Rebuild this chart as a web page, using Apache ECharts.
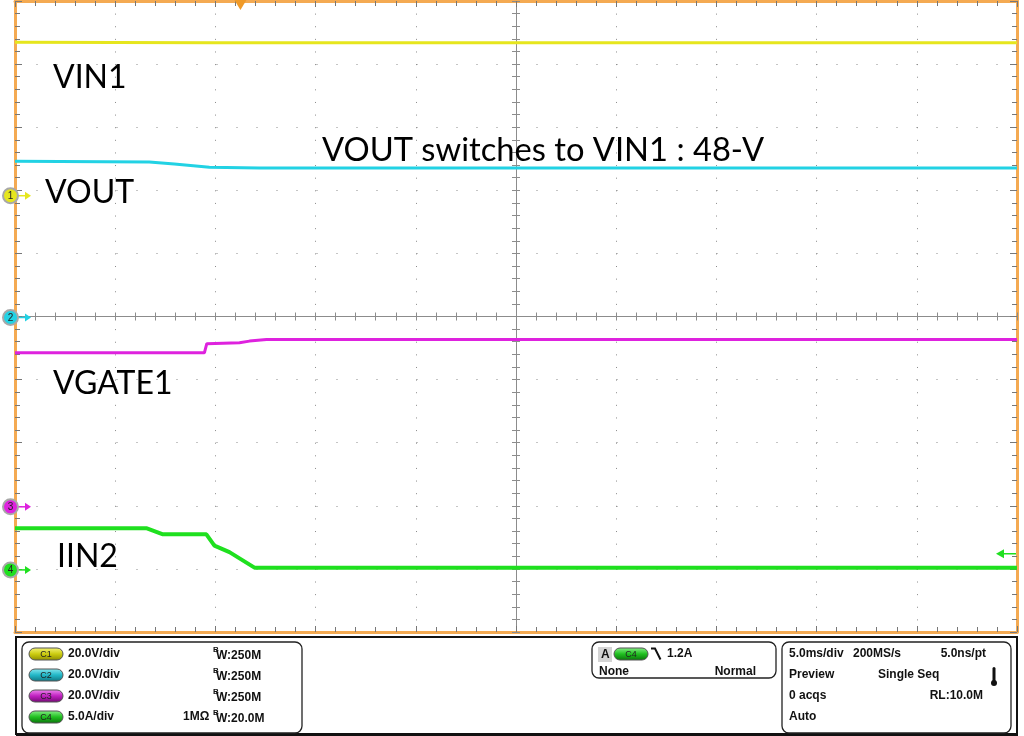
<!DOCTYPE html>
<html><head><meta charset="utf-8">
<script src="https://cdn.jsdelivr.net/npm/echarts@6/dist/echarts.min.js"></script>
<style>html,body{margin:0;padding:0;background:#fff}#c{width:1024px;height:736px}</style>
</head><body><div id="c"></div>
<script>
// ---- data (time in ms relative to screen centre, 5 ms/div) ----
const timeMin = -25, timeMax = 25, timeDiv = 5;
const divMin = -5, divMax = 5;
const channelNames = ['VIN1', 'VOUT', 'VGATE1', 'IIN2'];
const channelScale = [20, 20, 20, 5];        // V/div, V/div, V/div, A/div
const channelOffset = [1.93, 0, -3, -4];     // ground marker position (div)
const channelColors = ['#e6e61e', '#22d2e4', '#de22de', '#1fe01f'];
const vin1Time = [-25, -15, 25];
const vin1Value = [48.3, 48.2, 48.2];
const voutTime = [-25, -18.3, -17.05, -15.3, -12.8, 25];
const voutValue = [49.2, 49.0, 48.3, 47.3, 47.1, 47.1];
const vgateTime = [-25, -15.55, -15.43, -13.8, -13.3, -12.45, 25];
const vgateValue = [48.5, 48.5, 51.4, 51.7, 52.2, 52.7, 52.7];
const iinTime = [-25, -18.45, -17.65, -15.45, -15.05, -14.3, -13.05, 25];
const iinValue = [3.23, 3.23, 2.75, 2.74, 1.85, 1.33, 0.1, 0.1];
const triggerTime = -13.75;
const triggerLevel = 1.2;   // A on C4
const annotation = 'VOUT switches to VIN1 : 48-V';

const chart = echarts.init(document.getElementById('c'), null, {renderer: 'canvas'});
const ORANGE = '#f4aa52';
function toDiv(times, vals, ch) {
  return times.map((t, i) => [t, vals[i] / channelScale[ch] + channelOffset[ch]]);
}
function borderX(pos) {
  return {gridIndex: 0, type: 'value', position: pos, min: timeMin, max: timeMax, interval: timeDiv,
    axisLine: {show: true, onZero: false, lineStyle: {color: ORANGE, width: 3}},
    axisTick: {show: true, inside: true, length: 6, lineStyle: {color: '#777'}},
    minorTick: {show: true, splitNumber: 5, length: 5, lineStyle: {color: '#777'}},
    axisLabel: {show: false},
    splitLine: {show: pos === 'bottom', lineStyle: {color: '#8a8a8a', width: 1, type: [1, 11.62]}}};
}
function borderY(pos) {
  return {gridIndex: 0, type: 'value', position: pos, min: divMin, max: divMax, interval: 1,
    axisLine: {show: true, onZero: false, lineStyle: {color: ORANGE, width: 3}},
    axisTick: {show: true, inside: true, length: 7, lineStyle: {color: '#777'}},
    minorTick: {show: true, splitNumber: 5, length: 5, lineStyle: {color: '#777'}},
    axisLabel: {show: false},
    splitLine: {show: pos === 'left', lineStyle: {color: '#8a8a8a', width: 1, type: [1, 19], dashOffset: -1.5}}};
}
function centerX(pos) {
  return {gridIndex: 1, type: 'value', position: pos, min: timeMin, max: timeMax, interval: timeDiv,
    axisLine: {show: true, onZero: true, lineStyle: {color: '#8c8c8c', width: 1}},
    axisTick: {show: true, inside: true, length: 4, lineStyle: {color: '#8c8c8c'}},
    minorTick: {show: true, splitNumber: 5, length: 4, lineStyle: {color: '#8c8c8c'}},
    axisLabel: {show: false}, splitLine: {show: false}};
}
function centerY(pos) {
  return {gridIndex: 1, type: 'value', position: pos, min: divMin, max: divMax, interval: 1,
    axisLine: {show: true, onZero: true, lineStyle: {color: '#8c8c8c', width: 1}},
    axisTick: {show: true, inside: true, length: 4, lineStyle: {color: '#8c8c8c'}},
    minorTick: {show: true, splitNumber: 5, length: 4, lineStyle: {color: '#8c8c8c'}},
    axisLabel: {show: false}, splitLine: {show: false}};
}
const gridRect = {left: 15, right: 7, top: 1, bottom: 104};
function lineSeries(name, data, ch, w) {
  return {name, type: 'line', xAxisIndex: 0, yAxisIndex: 0, data, symbol: 'none', showSymbol: false,
    lineStyle: {color: channelColors[ch], width: w}, z: 3, silent: true};
}
chart.setOption({
  animation: false,
  backgroundColor: '#ffffff',
  grid: [Object.assign({}, gridRect), Object.assign({}, gridRect)],
  xAxis: [borderX('bottom'), borderX('top'), centerX('bottom'), centerX('top')],
  yAxis: [borderY('left'), borderY('right'), centerY('left'), centerY('right')],
  series: [
    lineSeries('IIN2', toDiv(iinTime, iinValue, 3), 3, 4),
    lineSeries('VGATE1', toDiv(vgateTime, vgateValue, 2), 2, 3),
    lineSeries('VOUT', toDiv(voutTime, voutValue, 1), 1, 3),
    lineSeries('VIN1', toDiv(vin1Time, vin1Value, 0), 0, 3)
  ]
});

// ---- decorations ----
const px = (t, d) => chart.convertToPixel({xAxisIndex: 0, yAxisIndex: 0}, [t, d]);
const G = [];
function label(text, x, y, size) {
  G.push({type: 'text', x, y, z: 10, style: {text, fontFamily: 'Lato', fontSize: size || 32, fill: '#000', verticalAlign: 'middle', align: 'left'}});
}
const labelPos = [[53, 77.5], [45, 193], [53, 383.5], [57, 557]];
channelNames.forEach((n, i) => label(n, labelPos[i][0], labelPos[i][1]));
label(annotation, 322, 150, 32.7);

// channel ground markers
channelColors.forEach((c, i) => {
  const y = px(timeMin, channelOffset[i])[1] + 1;
  G.push({type: 'line', z: 11, shape: {x1: 18, y1: y, x2: 26, y2: y}, style: {stroke: c, lineWidth: 1.5}});
  G.push({type: 'polygon', z: 11, shape: {points: [[31, y], [25, y - 4], [25, y + 4]]}, style: {fill: c}});
  G.push({type: 'circle', z: 12, shape: {cx: 10.5, cy: y, r: 7.5}, style: {fill: c, stroke: '#a8a8a8', lineWidth: 2}});
  G.push({type: 'text', z: 13, x: 10.5, y: y + 0.5, style: {text: String(i + 1), fontFamily: 'Liberation Sans', fontSize: 10, fill: '#222', align: 'center', verticalAlign: 'middle'}});
});
// trigger position marker (top)
const tx = px(triggerTime, 0)[0];
G.push({type: 'polygon', z: 30, shape: {points: [[tx - 6, 0], [tx + 6, 0], [tx, 10]]}, style: {fill: '#f09a28'}});
// trigger level marker (right)
const ty = px(timeMax, triggerLevel / channelScale[3] + channelOffset[3])[1];
G.push({type: 'line', z: 12, shape: {x1: 1002, y1: ty, x2: 1016, y2: ty}, style: {stroke: channelColors[3], lineWidth: 1.5}});
G.push({type: 'polygon', z: 12, shape: {points: [[996, ty], [1004, ty - 4.5], [1004, ty + 4.5]]}, style: {fill: channelColors[3]}});

// ---- info panel ----
const F = 'bold 12px "Liberation Sans", Arial, sans-serif';
function t(text, x, y, align) {
  G.push({type: 'text', z: 20, x, y, style: {text, font: F, fill: '#111', align: align || 'left', verticalAlign: 'middle'}});
}
G.push({type: 'rect', z: 15, shape: {x: 16, y: 637, width: 1001, height: 97}, style: {fill: '#fff', stroke: '#111', lineWidth: 2}});
G.push({type: 'line', z: 16, shape: {x1: 16, y1: 734.5, x2: 1018, y2: 734.5}, style: {stroke: '#111', lineWidth: 3}});
[[22, 642, 280, 91], [592, 642, 184, 36], [782, 642, 229, 91]].forEach(b => {
  G.push({type: 'rect', z: 16, shape: {x: b[0], y: b[1], width: b[2], height: b[3], r: 7}, style: {fill: 'none', stroke: '#222', lineWidth: 1.3}});
});
const pillColors = [['#f4f47a', '#cccc10', '#8c8c00'], ['#8ae8f0', '#22b8c8', '#107480'], ['#f08af0', '#c020c0', '#700a70'], ['#8af08a', '#20c020', '#0a700a']];
function pill(x, y, ch) {
  const pc = pillColors[ch];
  G.push({type: 'rect', z: 18, shape: {x, y: y - 6, width: 34, height: 12, r: 6},
    style: {fill: new echarts.graphic.LinearGradient(0, 0, 0, 1, [{offset: 0, color: pc[0]}, {offset: 0.5, color: pc[1]}, {offset: 1, color: pc[2]}]), stroke: '#555', lineWidth: 1}});
  G.push({type: 'text', z: 19, x: x + 17, y: y + 0.5, style: {text: 'C' + (ch + 1), font: '9px "Liberation Sans", Arial', fill: '#222', align: 'center', verticalAlign: 'middle'}});
}
const rows = [654, 675, 696, 717];
const vdiv = ['20.0V/div', '20.0V/div', '20.0V/div', '5.0A/div'];
const bw = ['W:250M', 'W:250M', 'W:250M', 'W:20.0M'];
rows.forEach((y, i) => {
  pill(29, y, i);
  t(vdiv[i], 68, y);
  G.push({type: 'text', z: 20, x: 213, y: y - 4, style: {text: 'B', font: 'bold 8px "Liberation Sans", Arial', fill: '#111', verticalAlign: 'middle'}});
  t(bw[i], 216, y + 1.5);
});
t('1MΩ', 183, rows[3]);
// trigger box
G.push({type: 'rect', z: 17, shape: {x: 598, y: 647, width: 14, height: 15}, style: {fill: '#d4d4d4'}});
t('A', 601, 654.5);
pill(614, 654, 3);
G.push({type: 'polyline', z: 20, shape: {points: [[651, 648.5], [655, 648.5], [660.5, 659.5]]}, style: {stroke: '#111', lineWidth: 2, fill: 'none'}});
t('1.2A', 667, 654);
t('None', 599, 672);
t('Normal', 756, 672, 'right');
// timebase box
t('5.0ms/div', 789, rows[0]);
t('200MS/s', 853, rows[0]);
t('5.0ns/pt', 986, rows[0], 'right');
t('Preview', 789, rows[1]);
t('Single Seq', 878, rows[1]);
t('0 acqs', 789, rows[2]);
t('RL:10.0M', 983, rows[2], 'right');
t('Auto', 789, rows[3]);
G.push({type: 'rect', z: 20, shape: {x: 992.5, y: 667, width: 3, height: 15, r: 1.5}, style: {fill: '#111'}});
G.push({type: 'circle', z: 20, shape: {cx: 994, cy: 683, r: 3}, style: {fill: '#111'}});

chart.setOption({graphic: {elements: G}});
</script>
</body></html>
